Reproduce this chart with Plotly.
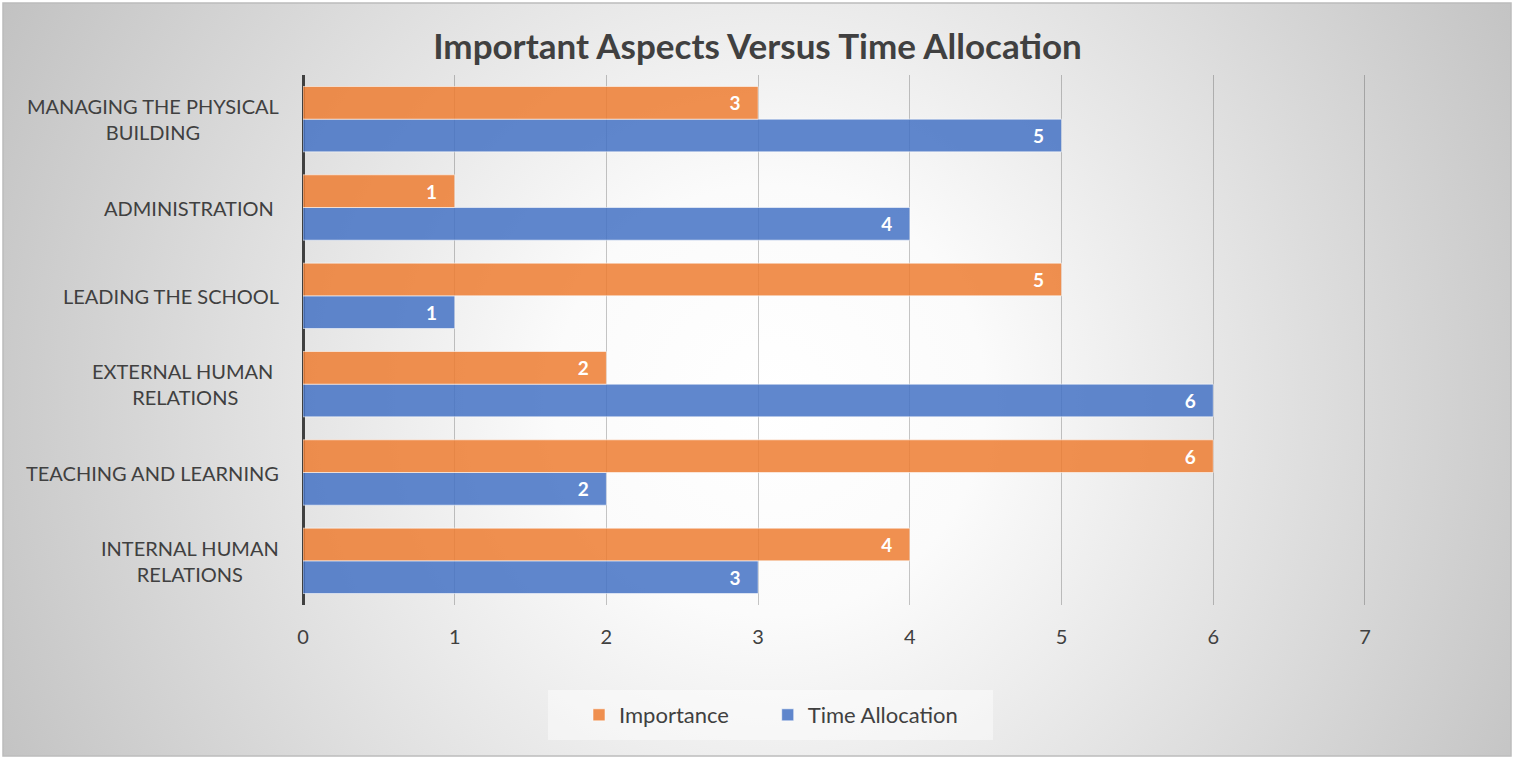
import base64
import plotly.graph_objects as go

categories = [
    "INTERNAL HUMAN RELATIONS",
    "TEACHING AND LEARNING",
    "EXTERNAL HUMAN RELATIONS",
    "LEADING THE SCHOOL",
    "ADMINISTRATION",
    "MANAGING THE PHYSICAL BUILDING",
]
category_labels = [
    "INTERNAL HUMAN<br>RELATIONS",
    "TEACHING AND LEARNING",
    "EXTERNAL HUMAN\u00a0<br>RELATIONS",
    "LEADING THE SCHOOL",
    "ADMINISTRATION\u00a0",
    "MANAGING THE PHYSICAL<br>BUILDING",
]
series_names = ["Importance", "Time Allocation"]
importance = [4, 6, 2, 5, 1, 3]
time_allocation = [3, 2, 6, 1, 4, 5]
x_ticks = [0, 1, 2, 3, 4, 5, 6, 7]
X_MAX = 7.02

W, H = 1514, 759
L, T, B = 303, 75, 154
PW = round(1062 * X_MAX / 7)
R = W - L - PW
PH = H - T - B


def px_x(p):
    return (p - L) / PW


def px_y(p):
    return (H - B - p) / PH


FONT = "Lato"
TXT = "#404040"
ORANGE = "rgba(237,125,49,0.85)"
BLUE = "rgba(68,114,196,0.85)"
LEGEND_PAD = "\u00a0" * 6  # spacing after first legend entry

svg = f'''<svg xmlns="http://www.w3.org/2000/svg" width="{W}" height="{H}" viewBox="0 0 {W} {H}">
<defs><radialGradient id="g" gradientUnits="userSpaceOnUse" cx="770" cy="400" r="860">
<stop offset="0" stop-color="#ffffff"/><stop offset="0.25" stop-color="#fbfbfb"/>
<stop offset="1" stop-color="#c2c2c2"/></radialGradient></defs>
<rect x="0" y="0" width="{W}" height="{H}" fill="#ffffff"/>
<rect x="3" y="3" width="{W-6}" height="{H-6}" fill="url(#g)" stroke="#bcbcbc" stroke-width="1.5"/>
</svg>'''
bg_src = "data:image/svg+xml;base64," + base64.b64encode(svg.encode()).decode()

fig = go.Figure()
label_tmpl = "<b>%{x}</b>\u00a0\u00a0\u00a0"
fig.add_trace(go.Bar(
    y=categories, x=time_allocation, orientation="h", name=series_names[1],
    marker=dict(color=BLUE, line=dict(color="rgba(255,255,255,0.55)", width=1)),
    texttemplate=label_tmpl, textposition="inside", insidetextanchor="end",
    textfont=dict(family=FONT, size=19, color="white"), legendrank=2,
    hoverinfo="skip",
))
fig.add_trace(go.Bar(
    y=categories, x=importance, orientation="h", name=series_names[0] + LEGEND_PAD,
    marker=dict(color=ORANGE, line=dict(color="rgba(255,255,255,0.55)", width=1)),
    texttemplate=label_tmpl, textposition="inside", insidetextanchor="end",
    textfont=dict(family=FONT, size=19, color="white"), legendrank=1,
    hoverinfo="skip",
))

annotations = []
for cat, lab in zip(categories, category_labels):
    annotations.append(dict(
        x=px_x(281), xref="paper", y=cat, yref="y", text=lab, showarrow=False,
        xanchor="right", yanchor="middle", align="center",
        font=dict(family=FONT, size=20, color=TXT),
    ))

fig.update_layout(
    width=W, height=H,
    margin=dict(l=L, r=R, t=T, b=B),
    paper_bgcolor="white", plot_bgcolor="rgba(0,0,0,0)",
    barmode="group", bargap=0.26, bargroupgap=0.0,
    uniformtext=dict(mode="show", minsize=19),
    title=dict(text="<b>Important Aspects Versus Time Allocation</b>",
               x=px_x(757.5), xref="paper", xanchor="center",
               y=1 - 47 / H, yanchor="middle",
               font=dict(family=FONT, size=35, color=TXT)),
    xaxis=dict(range=[0, X_MAX], tickvals=x_ticks, showgrid=True,
               gridcolor="rgba(0,0,0,0.22)", gridwidth=1,
               zeroline=True, zerolinecolor="#404040", zerolinewidth=3,
               showline=False, ticks="outside", ticklen=14,
               tickcolor="rgba(0,0,0,0)",
               tickfont=dict(family=FONT, size=20, color=TXT),
               fixedrange=True),
    yaxis=dict(categoryorder="array", categoryarray=categories,
               showticklabels=False, showgrid=False, zeroline=False,
               showline=False, fixedrange=True),
    legend=dict(orientation="h", x=px_x(771), xanchor="center",
                y=px_y(715), yanchor="middle", bgcolor="rgba(0,0,0,0)",
                font=dict(family=FONT, size=22, color=TXT),
                itemwidth=30, traceorder="normal"),
    annotations=annotations,
    shapes=[dict(type="rect", xref="paper", yref="paper",
                 x0=px_x(548), x1=px_x(993), y0=px_y(740), y1=px_y(690),
                 fillcolor="rgba(255,255,255,0.45)", line=dict(width=0),
                 layer="below")],
    images=[dict(source=bg_src, xref="paper", yref="paper",
                 x=px_x(0), y=px_y(0), sizex=W / PW, sizey=H / PH,
                 sizing="stretch", xanchor="left", yanchor="top",
                 layer="below")],
)

fig.write_html("out.html", config={"displayModeBar": False})
